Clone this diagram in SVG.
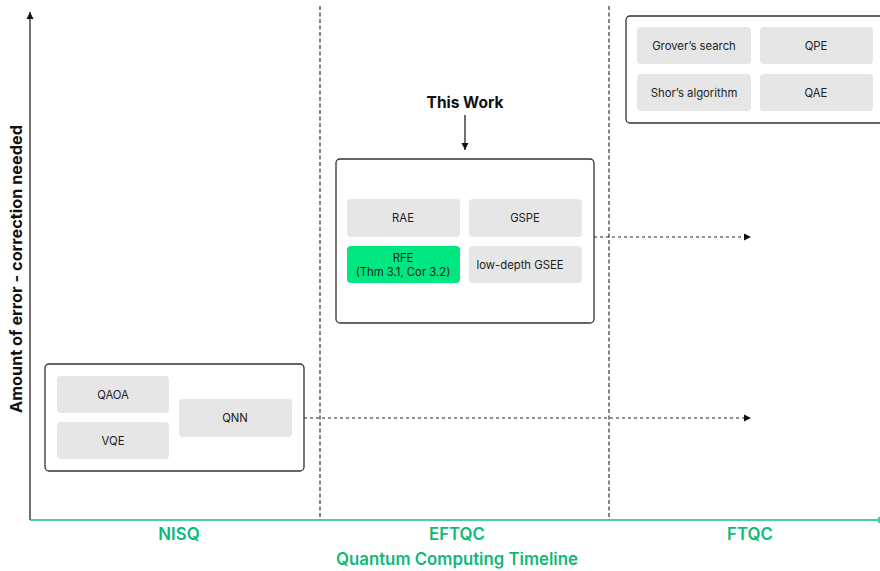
<svg xmlns="http://www.w3.org/2000/svg" width="880" height="571" viewBox="0 0 880 571">
<defs>
<marker id="ah" markerWidth="8" markerHeight="8" refX="7" refY="4" orient="auto" markerUnits="userSpaceOnUse"><path d="M0,0.5 L7,4 L0,7.5 z" fill="#111"/></marker>
<style>
.t{font-family:Inter,"Liberation Sans",sans-serif;font-size:11.3px;fill:#222;text-anchor:middle;dominant-baseline:central}
.lab{font-family:Inter,"Liberation Sans",sans-serif;font-size:16.8px;font-weight:600;fill:#0fb877;text-anchor:middle}
.frame{fill:#fff;stroke:#333;stroke-width:1.3}
.cell{fill:#e6e6e6}
.div{stroke:#222;stroke-width:1.1;stroke-dasharray:4 2.5}
.con{stroke:#222;stroke-width:1.2;stroke-dasharray:3 3;fill:none}
</style>
</defs>
<rect width="880" height="571" fill="#fff"/>
<g id="axes">
<line class="div" x1="320" y1="6" x2="320" y2="520"/>
<line class="div" x1="609" y1="6" x2="609" y2="520"/>
<line x1="30" y1="520" x2="30" y2="12" stroke="#111" stroke-width="1.2" marker-end="url(#ah)"/>
<line x1="30" y1="520" x2="879" y2="520" stroke="#14c27f" stroke-width="1.5"/>
<line x1="879" y1="517" x2="879" y2="523" stroke="#14c27f" stroke-width="1.5"/>
<text class="lab" x="179" y="540">NISQ</text>
<text class="lab" x="457" y="540">EFTQC</text>
<text class="lab" x="750" y="540">FTQC</text>
<text class="lab" x="457" y="565">Quantum Computing Timeline</text>
<text x="16" y="269" transform="rotate(-90 16 269)" style="font-family:Inter,'Liberation Sans',sans-serif;font-size:16.3px;font-weight:700;fill:#111;text-anchor:middle;dominant-baseline:central">Amount of error - correction needed</text>
</g>
<g id="connectors">
<line class="con" x1="594" y1="237" x2="745" y2="237"/>
<path d="M744,233.5 L751,237 L744,240.5 z" fill="#111"/>
<line class="con" x1="304" y1="418" x2="745" y2="418"/>
<path d="M744,414.5 L751,418 L744,421.5 z" fill="#111"/>
<line x1="465" y1="115" x2="465" y2="150" stroke="#111" stroke-width="1.2" marker-end="url(#ah)"/>
<text x="465" y="102" style="font-family:Inter,'Liberation Sans',sans-serif;font-size:15.5px;font-weight:700;fill:#111;text-anchor:middle;dominant-baseline:central">This Work</text>
</g>
<g id="ftqc">
<rect class="frame" x="626" y="16" width="264" height="107" rx="4"/>
<g id="grover"><rect class="cell" x="637" y="27" width="114" height="37" rx="4"/><text class="t" x="694" y="46">Grover’s search</text></g>
<g id="qpe"><rect class="cell" x="760" y="27" width="113" height="37" rx="4"/><text class="t" x="816" y="46">QPE</text></g>
<g id="shor"><rect class="cell" x="637" y="74" width="114" height="37" rx="4"/><text class="t" x="694" y="93">Shor’s algorithm</text></g>
<g id="qae"><rect class="cell" x="760" y="74" width="113" height="37" rx="4"/><text class="t" x="816" y="93">QAE</text></g>
</g>
<g id="eftqc">
<rect class="frame" x="336" y="159" width="258" height="164" rx="4"/>
<g id="rae"><rect class="cell" x="347" y="199" width="113" height="38" rx="4"/><text class="t" x="403" y="218">RAE</text></g>
<g id="gspe"><rect class="cell" x="469" y="199" width="113" height="38" rx="4"/><text class="t" x="525" y="218">GSPE</text></g>
<g id="rfe"><rect x="347" y="246" width="113" height="37" rx="4" fill="#00e680"/><text class="t" x="403" y="258">RFE</text><text class="t" x="403" y="272">(Thm 3.1, Cor 3.2)</text></g>
<g id="gsee"><rect class="cell" x="469" y="246" width="113" height="37" rx="4"/><text class="t" x="520" y="265">low-depth GSEE</text></g>
</g>
<g id="nisq">
<rect class="frame" x="45" y="364" width="259" height="107" rx="4"/>
<g id="qaoa"><rect class="cell" x="57" y="376" width="112" height="37" rx="4"/><text class="t" x="113" y="395">QAOA</text></g>
<g id="vqe"><rect class="cell" x="57" y="422" width="112" height="37" rx="4"/><text class="t" x="113" y="441">VQE</text></g>
<g id="qnn"><rect class="cell" x="179" y="399" width="113" height="38" rx="4"/><text class="t" x="235" y="418">QNN</text></g>
</g>
</svg>
